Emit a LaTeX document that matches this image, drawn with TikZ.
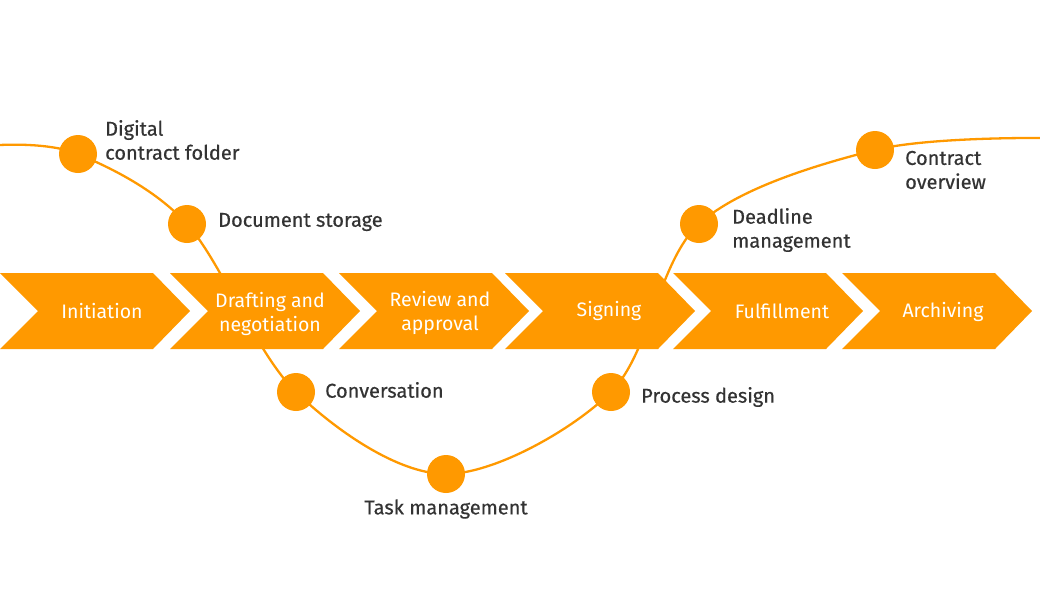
\documentclass[tikz,border=0pt]{standalone}
\usepackage{fontspec}
\setmainfont{Fira Sans}
\newfontfamily\labfont[FakeBold=0.5]{Fira Sans}
\definecolor{orng}{HTML}{FF9900}
\definecolor{txt}{HTML}{333333}
\tikzset{
  chev/.style={fill=orng},
  steplabel/.style={text=white, font=\fontsize{19.5}{24.5}\selectfont, align=center, inner sep=0pt},
  dot/.style={circle, fill=orng, minimum size=38pt, inner sep=0pt},
  tool/.style={text=txt, font=\labfont\fontsize{20}{24}\selectfont, inner sep=0pt, align=left},
  wave/.style={draw=orng, line width=2.3pt}
}
\newcommand{\chevshape}[1]{%
  \fill[chev] (#1,273) -- ++(153,0) -- ++(37,38) -- ++(-37,38) -- ++(-153,0) -- ++(38,-38) -- cycle;}
\begin{document}
\begin{tikzpicture}[x=1pt,y=-1pt]
\useasboundingbox (0,0) rectangle (1040,590);
% curve points
\coordinate (p0) at (0,145);
\coordinate (p1) at (78,154);
\coordinate (p2) at (187,224);
\coordinate (p3) at (296,392);
\coordinate (p4) at (446,474);
\coordinate (p5) at (611,392);
\coordinate (p6) at (699,224);
\coordinate (p7) at (875,150);
\coordinate (p8) at (1040,138);
\draw[wave] plot[smooth, tension=0.55] coordinates {(p0) (p1) (p2) (p3) (p4) (p5) (p6) (p7) (p8)};
% chevrons
\chevshape{0}
\chevshape{170}
\chevshape{339}
\chevshape{505}
\chevshape{673}
\chevshape{842}
\node[steplabel] (s1) at (102,311) {Initiation};
\node[steplabel] (s2) at (270,314) {Drafting and\\negotiation};
\node[steplabel] (s3) at (440,313) {Review and\\approval};
\node[steplabel] (s4) at (609,311) {Signing};
\node[steplabel] (s5) at (782,311) {Fulfillment};
\node[steplabel] (s6) at (943,312) {Archiving};
% dots
\node[dot] (d1) at (p1) {};
\node[dot] (d2) at (p2) {};
\node[dot] (d3) at (p3) {};
\node[dot] (d4) at (p4) {};
\node[dot] (d5) at (p5) {};
\node[dot] (d6) at (p6) {};
\node[dot] (d7) at (p7) {};
% labels
\node[tool, anchor=west] (l1) at (105,140) {Digital\\contract folder};
\node[tool, anchor=west] (l2) at (218,222) {Document storage};
\node[tool, anchor=west] (l3) at (325,390) {Conversation};
\node[tool] (l4) at (446,509) {Task management};
\node[tool, anchor=west] (l5) at (641,397) {Process design};
\node[tool, anchor=west] (l6) at (732,230) {Deadline\\management};
\node[tool, anchor=west] (l7) at (905,170) {Contract\\overview};
\end{tikzpicture}
\end{document}
